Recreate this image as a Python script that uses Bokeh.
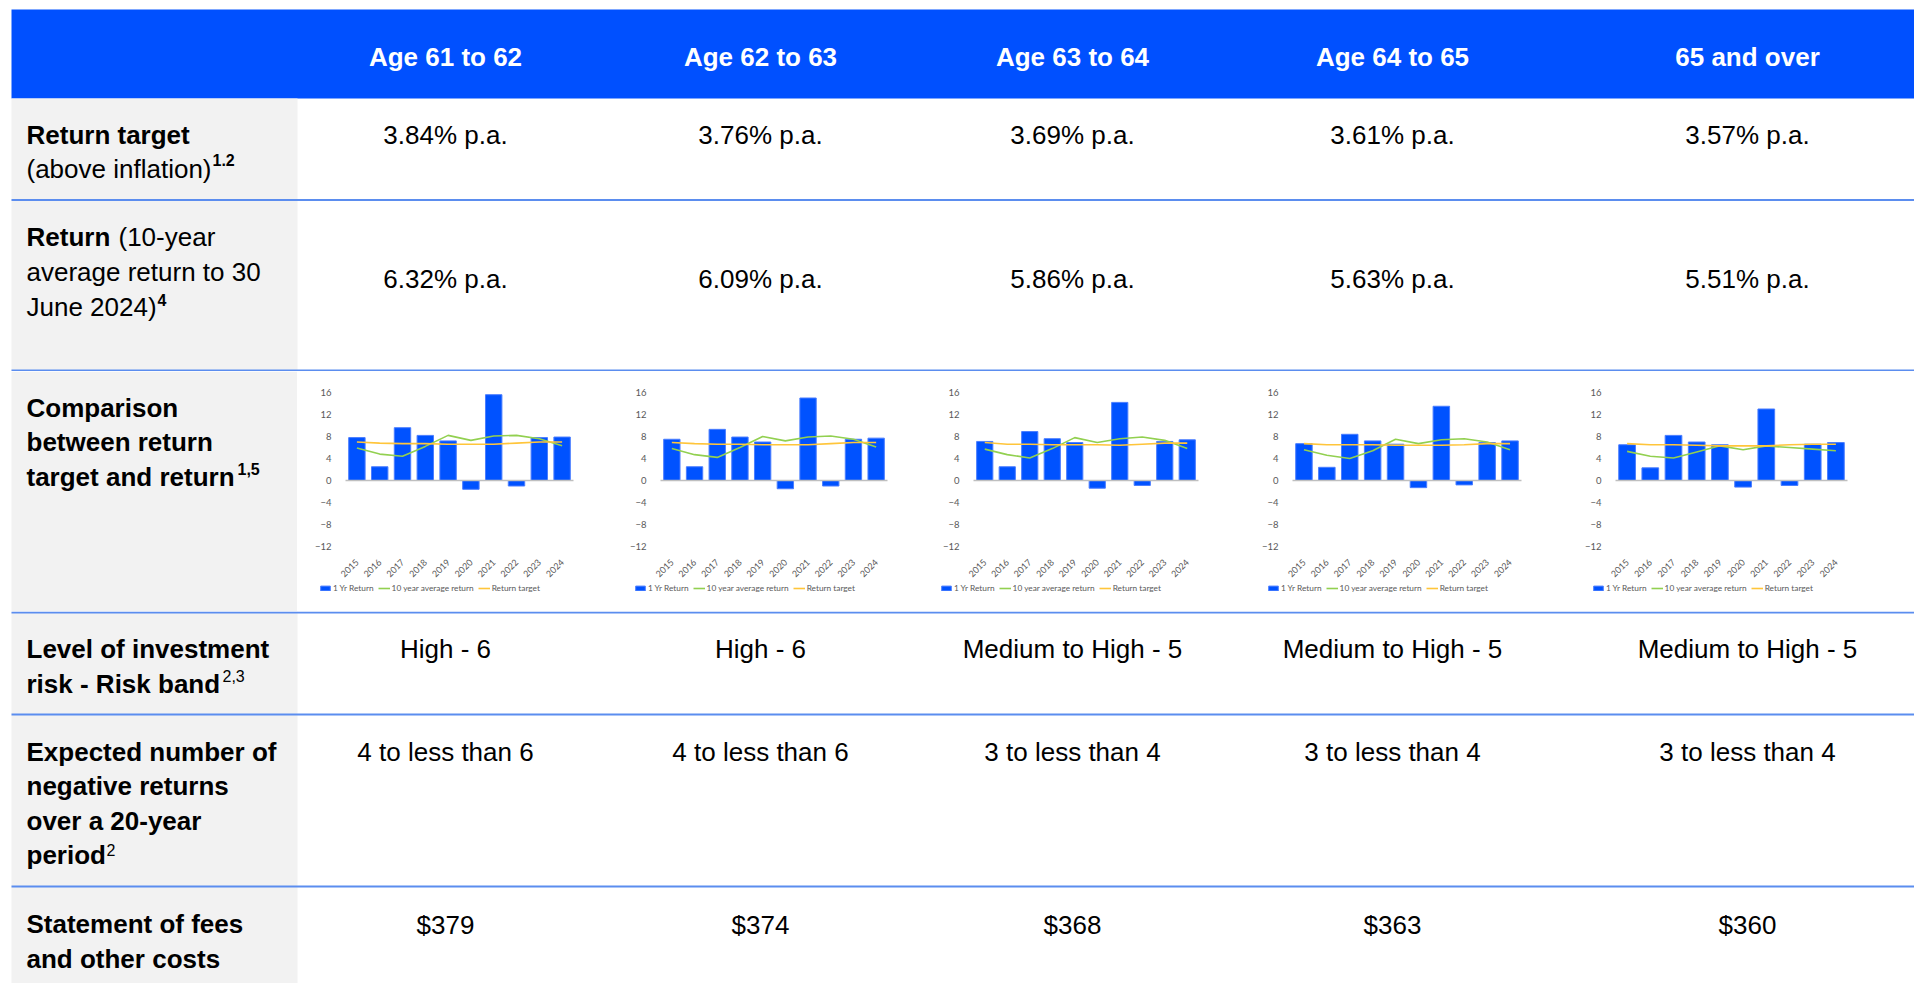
from math import pi
from bokeh.plotting import figure
from bokeh.models import Range1d, FixedTicker, Legend, LegendItem
from bokeh.layouts import column, row
from bokeh.core.properties import value
from bokeh.embed import file_html
from bokeh.resources import INLINE

# ---------------- data ----------------
columns = ["Age 61 to 62", "Age 62 to 63", "Age 63 to 64", "Age 64 to 65", "65 and over"]
return_target = ["3.84% p.a.", "3.76% p.a.", "3.69% p.a.", "3.61% p.a.", "3.57% p.a."]
return_10yr = ["6.32% p.a.", "6.09% p.a.", "5.86% p.a.", "5.63% p.a.", "5.51% p.a."]
risk_band = ["High - 6", "High - 6", "Medium to High - 5", "Medium to High - 5", "Medium to High - 5"]
negative_returns = ["4 to less than 6", "4 to less than 6", "3 to less than 4",
                    "3 to less than 4", "3 to less than 4"]
fees = ["$379", "$374", "$368", "$363", "$360"]

years = ["2015", "2016", "2017", "2018", "2019", "2020", "2021", "2022", "2023", "2024"]

one_yr_return = [
    [7.8, 2.5, 9.6, 8.2, 7.2, -1.6, 15.6, -1.0, 7.8, 7.9],
    [7.5, 2.5, 9.3, 7.9, 7.0, -1.5, 15.0, -1.0, 7.5, 7.7],
    [7.1, 2.5, 8.9, 7.6, 6.9, -1.4, 14.2, -0.9, 7.1, 7.4],
    [6.7, 2.4, 8.4, 7.2, 6.6, -1.3, 13.5, -0.8, 6.9, 7.2],
    [6.5, 2.3, 8.2, 7.0, 6.5, -1.2, 13.0, -0.9, 6.6, 6.9],
]
ten_yr_avg = [
    [5.9, 4.8, 4.4, 6.2, 8.2, 7.3, 8.1, 8.2, 7.6, 6.3],
    [5.8, 4.7, 4.2, 6.0, 8.0, 7.2, 7.9, 8.1, 7.5, 6.1],
    [5.7, 4.7, 4.1, 5.8, 7.8, 6.9, 7.6, 7.9, 7.3, 5.8],
    [5.6, 4.6, 4.0, 5.4, 7.5, 6.7, 7.4, 7.6, 7.0, 5.6],
    [5.3, 4.4, 4.1, 5.2, 6.3, 5.6, 6.3, 6.0, 5.7, 5.4],
]
target_line = [
    [7.0, 6.8, 6.7, 6.7, 6.6, 6.6, 6.6, 6.8, 7.0, 7.0],
    [6.9, 6.7, 6.6, 6.6, 6.5, 6.5, 6.5, 6.7, 6.9, 6.9],
    [6.9, 6.6, 6.6, 6.5, 6.5, 6.5, 6.4, 6.6, 6.8, 6.8],
    [6.7, 6.5, 6.5, 6.5, 6.4, 6.4, 6.4, 6.5, 6.7, 6.7],
    [6.7, 6.5, 6.5, 6.4, 6.3, 6.3, 6.3, 6.5, 6.6, 6.6],
]
y_ticks = [-12, -8, -4, 0, 4, 8, 12, 16]
legend_labels = ["1 Yr Return", "10 year average return", "Return target"]

# ---------------- style / layout ----------------
W = 1914
BLUE = "#0050FF"
GRAY = "#F2F2F2"
LINE = "#5B8DEF"
BAR = "#0052FF"
GREEN = "#92D050"
GOLD = "#FFC53A"
FONT = value("Liberation Sans")
CHART_FONT = "Lato"
col_centers = [445, 760, 1072, 1392, 1747]
GL, GR = 11, 297
LX = 26
TEXT_DY = 9   # rendering offset correction for text baselines
SUP = "16px"


def canvas(w, h):
    p = figure(width=w, height=h, x_range=Range1d(0, w), y_range=Range1d(h, 0),
               output_backend="svg", toolbar_location=None,
               x_axis_location=None, y_axis_location=None, min_border=0)
    p.grid.visible = False
    p.outline_line_color = None
    p.background_fill_color = "white"
    p.border_fill_color = "white"
    return p


def txt(p, x, y, s, size="26px", bold=False, color="black", align="left"):
    p.text(x=[x], y=[y - TEXT_DY], text=[s], text_font=FONT, text_font_size=size,
           text_font_style="bold" if bold else "normal", text_color=color,
           text_align=align, text_baseline="alphabetic")


def band(p, top, bottom, left, right, color):
    p.quad(left=[left], right=[right], top=[top], bottom=[bottom],
           fill_color=color, line_color=None)


# ---------- top section (header + rows 1-2), page y 0..371 ----------
top = canvas(W, 371)
band(top, 9, 98, GL, W, BLUE)
band(top, 98, 371, GL, GR, GRAY)
band(top, 198.5, 200.5, GL, W, LINE)
band(top, 369, 371, GL, W, LINE)
for cx, name in zip(col_centers, columns):
    txt(top, cx, 65, name, bold=True, color="white", align="center")
for cx, s in zip(col_centers, return_target):
    txt(top, cx, 143, s, align="center")
for cx, s in zip(col_centers, return_10yr):
    txt(top, cx, 287, s, align="center")
txt(top, LX, 143, "Return target", bold=True)
txt(top, LX, 177, "(above inflation)")
txt(top, 212, 168, "1.2", size=SUP, bold=True)
txt(top, LX, 245, "Return", bold=True)
txt(top, 118, 245, "(10-year")
txt(top, LX, 280, "average return to 30")
txt(top, LX, 315, "June 2024)")
txt(top, 157, 308, "4", size=SUP, bold=True)

# ---------- middle section (charts), page y 371..611 ----------
MY0, MY1 = 371, 611
MH = MY1 - MY0

lab = canvas(GR, MH)
band(lab, 0, MH, GL, GR, GRAY)
txt(lab, LX, 45, "Comparison", bold=True)
txt(lab, LX, 79.5, "between return", bold=True)
txt(lab, LX, 114, "target and return", bold=True)
txt(lab, 237, 106, "1,5", size=SUP, bold=True)

# page-pixel geometry of each mini chart: figure span and plot-area span
fig_spans = [(297, 625), (625, 940), (940, 1255), (1255, 1575), (1575, 1914)]
plot_spans = [(345, 573), (660, 887), (973, 1198), (1292, 1521), (1615, 1847)]
PLOT_TOP, PLOT_BOTTOM = 392, 546          # page y of y=16 and y=-12
legend_x = [22, 9, 0, 12, 17]
LEGEND_Y = 18

n = len(years)
xs = list(range(n))
ymin, ymax = y_ticks[0], y_ticks[-1]
ppu_y = (PLOT_BOTTOM - PLOT_TOP) / (ymax - ymin)

charts = []
for i in range(5):
    fl, fr = fig_spans[i]
    pl, pr = plot_spans[i]
    ppu_x = (pr - pl) / n
    x_start = -0.5 - (pl - fl) / ppu_x
    x_end = n - 0.5 + (fr - pr) / ppu_x
    y_end = ymax + (PLOT_TOP - MY0) / ppu_y
    y_start = ymin - (MY1 - PLOT_BOTTOM) / ppu_y

    c = figure(width=fr - fl, height=MH,
               x_range=Range1d(x_start, x_end), y_range=Range1d(y_start, y_end),
               output_backend="svg", toolbar_location=None, min_border=0)
    c.grid.visible = False
    c.outline_line_color = None
    c.background_fill_color = "white"
    c.border_fill_color = "white"

    bars = c.vbar(x=xs, top=one_yr_return[i], width=0.72,
                  fill_color=BAR, line_color="#4A7DFF", line_width=1)
    c.segment(x0=[-0.5], y0=[0], x1=[n - 0.5], y1=[0], line_color="#BFBFBF", line_width=1.5)
    g = c.line(x=xs, y=ten_yr_avg[i], line_color=GREEN, line_width=1.6)
    t = c.line(x=xs, y=target_line[i], line_color=GOLD, line_width=1.6)

    c.yaxis.fixed_location = -0.5
    c.yaxis.ticker = FixedTicker(ticks=y_ticks)
    c.yaxis.axis_line_color = None
    c.yaxis.major_tick_line_color = None
    c.yaxis.minor_tick_line_color = None
    c.yaxis.major_label_standoff = 8
    c.yaxis.major_label_text_font = CHART_FONT
    c.yaxis.major_label_text_font_size = "9.5px"
    c.yaxis.major_label_text_color = "#595959"

    c.xaxis.fixed_location = ymin
    c.xaxis.ticker = FixedTicker(ticks=xs)
    c.xaxis.major_label_overrides = {k: yr for k, yr in zip(xs, years)}
    c.xaxis.axis_line_color = None
    c.xaxis.major_tick_line_color = None
    c.xaxis.minor_tick_line_color = None
    c.xaxis.major_label_orientation = pi / 4
    c.xaxis.major_label_standoff = 8
    c.xaxis.major_label_text_font = CHART_FONT
    c.xaxis.major_label_text_font_size = "9px"
    c.xaxis.major_label_text_color = "#595959"

    leg = Legend(items=[LegendItem(label=legend_labels[0], renderers=[bars]),
                        LegendItem(label=legend_labels[1], renderers=[g]),
                        LegendItem(label=legend_labels[2], renderers=[t])],
                 location=(legend_x[i], LEGEND_Y), orientation="horizontal",
                 glyph_width=12, glyph_height=6, label_standoff=2, spacing=4,
                 padding=0, margin=0, border_line_color=None,
                 background_fill_alpha=0,
                 label_text_font=CHART_FONT, label_text_font_size="8.3px",
                 label_text_color="#595959", label_height=10)
    c.add_layout(leg)
    charts.append(c)

# ---------- bottom section (rows 4-6), page y 611..983 ----------
bot = canvas(W, 372)
band(bot, 0, 372, GL, GR, GRAY)
band(bot, 0, 2, GL, W, LINE)
band(bot, 102, 104, GL, W, LINE)
band(bot, 274, 276, GL, W, LINE)
for cx, s in zip(col_centers, risk_band):
    txt(bot, cx, 46, s, align="center")
for cx, s in zip(col_centers, negative_returns):
    txt(bot, cx, 149, s, align="center")
for cx, s in zip(col_centers, fees):
    txt(bot, cx, 322, s, align="center")
txt(bot, LX, 46, "Level of investment", bold=True)
txt(bot, LX, 81, "risk - Risk band", bold=True)
txt(bot, 222, 73, "2,3", size=SUP)
txt(bot, LX, 149, "Expected number of", bold=True)
txt(bot, LX, 183, "negative returns", bold=True)
txt(bot, LX, 218, "over a 20-year", bold=True)
txt(bot, LX, 252, "period", bold=True)
txt(bot, 106, 247, "2", size=SUP)
txt(bot, LX, 321, "Statement of fees", bold=True)
txt(bot, LX, 356, "and other costs", bold=True)

middle = row(lab, *charts, spacing=0)
layout = column(top, middle, bot, spacing=0)

open("out.html", "w").write(file_html(layout, INLINE))
